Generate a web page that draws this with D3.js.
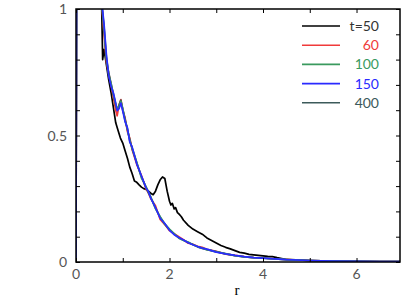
<!DOCTYPE html>
<html>
<head>
<meta charset="utf-8">
<script src="https://cdn.jsdelivr.net/npm/d3@7"></script>
<style>
  html, body { margin: 0; padding: 0; background: #fff; }
  svg text { font-family: Lato, "Open Sans", sans-serif; font-weight: 400; }
</style>
</head>
<body>
<svg id="chart" width="409" height="307"></svg>
<script>
// r grid shared by the t=60..400 curves
const rGrid = [0, 0.04, 0.3, 0.5, 0.55, 0.6, 0.65, 0.7, 0.75, 0.8, 0.85, 0.88, 0.92, 0.96, 1.0,
  1.05, 1.1, 1.15, 1.2, 1.3, 1.4, 1.5, 1.55, 1.6, 1.7, 1.8, 1.9, 2.0, 2.1, 2.2, 2.3, 2.4, 2.5, 2.6, 2.7, 2.8,
  3.0, 3.2, 3.4, 3.6, 3.8, 4.0, 4.5, 5.0, 5.5, 6.0, 6.5, 6.93];

const g60  = [0, 4, 2.5, 1.3, 1.02, 0.9, 0.79, 0.745, 0.7, 0.65, 0.6, 0.578, 0.62, 0.642, 0.6,
  0.57, 0.515, 0.49, 0.445, 0.385, 0.342, 0.288, 0.272, 0.25, 0.222, 0.168, 0.148, 0.124, 0.112, 0.1, 0.088, 0.074, 0.07, 0.062, 0.058, 0.05,
  0.042, 0.031, 0.026, 0.021, 0.017, 0.016, 0.009, 0.006, 0.004, 0.003, 0.002, 0.002];
const g100 = [0, 4, 2.5, 1.3, 1.02, 0.93, 0.81, 0.74, 0.705, 0.664, 0.624, 0.604, 0.614, 0.634, 0.607,
  0.558, 0.527, 0.478, 0.452, 0.394, 0.332, 0.297, 0.277, 0.257, 0.211, 0.179, 0.15, 0.13, 0.112, 0.094, 0.085, 0.079, 0.068, 0.06, 0.055, 0.049,
  0.04, 0.033, 0.025, 0.02, 0.017, 0.015, 0.009, 0.006, 0.004, 0.003, 0.002, 0.002];
const g150 = [0, 4, 2.5, 1.3, 1.03, 0.94, 0.82, 0.735, 0.695, 0.668, 0.628, 0.598, 0.606, 0.628, 0.597,
  0.555, 0.53, 0.474, 0.455, 0.388, 0.34, 0.292, 0.279, 0.252, 0.215, 0.173, 0.152, 0.125, 0.108, 0.097, 0.087, 0.076, 0.068, 0.061, 0.055, 0.051,
  0.039, 0.032, 0.026, 0.021, 0.017, 0.015, 0.009, 0.006, 0.004, 0.003, 0.002, 0.002];
const g400 = [0, 4, 2.5, 1.3, 1.02, 0.92, 0.8, 0.748, 0.706, 0.66, 0.621, 0.602, 0.62, 0.64, 0.604,
  0.564, 0.523, 0.484, 0.448, 0.391, 0.337, 0.294, 0.273, 0.255, 0.213, 0.177, 0.149, 0.128, 0.11, 0.095, 0.086, 0.077, 0.069, 0.06, 0.054, 0.049,
  0.041, 0.032, 0.025, 0.02, 0.017, 0.015, 0.009, 0.006, 0.004, 0.003, 0.002, 0.002];

// t=50 has its own grid (more structure)
const r50 = [0, 0.04, 0.3, 0.5, 0.55, 0.57, 0.6, 0.65, 0.7, 0.75, 0.8, 0.85, 0.9, 0.95, 1.0, 1.05,
  1.1, 1.15, 1.2, 1.25, 1.3, 1.35, 1.4, 1.45, 1.5, 1.55, 1.6, 1.65, 1.7, 1.75, 1.8, 1.85, 1.9,
  1.95, 2.0, 2.03, 2.06, 2.1, 2.13, 2.17, 2.2, 2.25, 2.3, 2.4, 2.5, 2.6, 2.7, 2.8, 2.9, 3.0,
  3.1, 3.2, 3.3, 3.4, 3.5, 3.6, 3.7, 3.8, 3.9, 4.0, 4.1, 4.2, 4.3, 4.5, 5.0, 5.5, 6.0, 6.5, 6.93];
const g50 = [0, 4, 2.5, 1.3, 1.0, 0.8, 0.84, 0.78, 0.72, 0.67, 0.61, 0.55, 0.52, 0.49, 0.47, 0.44,
  0.41, 0.375, 0.35, 0.32, 0.315, 0.305, 0.296, 0.29, 0.287, 0.28, 0.272, 0.266, 0.28, 0.305, 0.325, 0.336, 0.33,
  0.28, 0.24, 0.225, 0.232, 0.21, 0.215, 0.195, 0.19, 0.18, 0.165, 0.145, 0.13, 0.12, 0.11, 0.095, 0.085, 0.075,
  0.065, 0.058, 0.052, 0.045, 0.038, 0.035, 0.03, 0.028, 0.026, 0.024, 0.022, 0.021, 0.017, 0.01, 0.006, 0.004, 0.003, 0.002, 0.002];

const seriesNames = ["t=50", "60", "100", "150", "400"];
const seriesColors = ["#000000", "#f03a3a", "#3a9a5e", "#2a2aff", "#3c5a5a"];
const xTicks = [0, 2, 4, 6];
const yTicks = [0, 0.5, 1];

const series = [
  { name: seriesNames[0], color: seriesColors[0], r: r50, g: g50 },
  { name: seriesNames[1], color: seriesColors[1], r: rGrid, g: g60 },
  { name: seriesNames[2], color: seriesColors[2], r: rGrid, g: g100 },
  { name: seriesNames[3], color: seriesColors[3], r: rGrid, g: g150 },
  { name: seriesNames[4], color: seriesColors[4], r: rGrid, g: g400 }
];

const svg = d3.select("#chart");
const plotL = 76, plotR = 400, plotT = 9, plotB = 262;

const x = d3.scaleLinear().domain([0, 6.93]).range([plotL, plotR]);
const y = d3.scaleLinear().domain([0, 1]).range([plotB, plotT]);

svg.append("clipPath").attr("id", "plot-clip")
  .append("rect").attr("x", plotL).attr("y", plotT).attr("width", plotR - plotL).attr("height", plotB - plotT);

// curves
const line = d3.line().x(d => x(d[0])).y(d => y(d[1]));
const drawOrder = [0, 1, 4, 2, 3];
svg.append("g").attr("clip-path", "url(#plot-clip)")
  .selectAll("path")
  .data(drawOrder.map(i => series[i]))
  .join("path")
  .attr("d", s => line(d3.zip(s.r, s.g)))
  .attr("fill", "none")
  .attr("stroke", s => s.color)
  .attr("stroke-width", 1.7)
  .attr("stroke-linejoin", "round");

// frame
svg.append("rect")
  .attr("x", plotL).attr("y", plotT).attr("width", plotR - plotL).attr("height", plotB - plotT)
  .attr("fill", "none").attr("stroke", "#000").attr("stroke-width", 1.5);

// axes with inward ticks
const xMinor = d3.range(0, 7, 1);
const yMinor = d3.range(0, 1.01, 0.1);

svg.append("g").attr("transform", `translate(0,${plotB})`)
  .call(d3.axisBottom(x).tickValues(xMinor).tickSize(-4).tickFormat(""))
  .call(g => g.select(".domain").remove());
svg.append("g").attr("transform", `translate(0,${plotT})`)
  .call(d3.axisTop(x).tickValues(xMinor).tickSize(-4).tickFormat(""))
  .call(g => g.select(".domain").remove());
svg.append("g").attr("transform", `translate(${plotL},0)`)
  .call(d3.axisLeft(y).tickValues(yMinor).tickSize(-4).tickFormat(""))
  .call(g => g.select(".domain").remove());
svg.append("g").attr("transform", `translate(${plotR},0)`)
  .call(d3.axisRight(y).tickValues(yMinor).tickSize(-4).tickFormat(""))
  .call(g => g.select(".domain").remove());

// tick labels
svg.append("g").selectAll("text").data(xTicks).join("text")
  .attr("x", d => x(d)).attr("y", plotB + 17)
  .attr("text-anchor", "middle").attr("font-size", 14).attr("fill", "#555")
  .text(d => d);
svg.append("g").selectAll("text").data(yTicks).join("text")
  .attr("x", plotL - 9).attr("y", d => y(d) + 5)
  .attr("text-anchor", "end").attr("font-size", 14).attr("fill", "#555")
  .text(d => d);

svg.append("text")
  .attr("x", (plotL + plotR) / 2 - 1).attr("y", 295)
  .attr("text-anchor", "middle").attr("font-size", 15)
  .style("font-family", "'Liberation Serif', serif")
  .text("r");

// legend
const legend = svg.append("g").selectAll("g").data(series).join("g")
  .attr("transform", (d, i) => `translate(0,${26 + i * 19.2})`);
legend.append("line")
  .attr("x1", 302).attr("x2", 340)
  .attr("stroke", d => d.color).attr("stroke-width", 1.6);
legend.append("text")
  .attr("x", 379).attr("y", 5)
  .attr("text-anchor", "end").attr("font-size", 14)
  .attr("fill", (d, i) => i === 0 ? "#333" : d.color)
  .text(d => d.name);
</script>
</body>
</html>
